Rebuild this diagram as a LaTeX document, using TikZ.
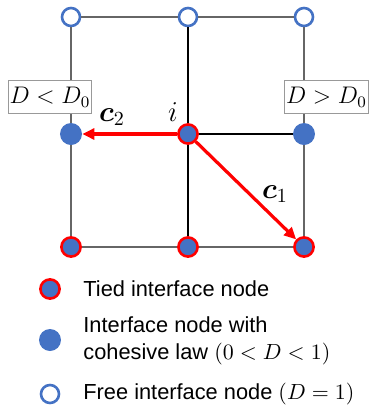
\documentclass[tikz,border=0pt]{standalone}
\usepackage[no-math]{fontspec}
\usepackage{amsmath}
\usepackage{bm}
\usetikzlibrary{arrows.meta, positioning}
\newfontfamily\legendfont{Liberation Sans}
\definecolor{nodeblue}{HTML}{4472C4}
\definecolor{tiedred}{HTML}{FF0000}

\begin{document}
\begin{tikzpicture}[
    x=0.5pt, y=-0.5pt,
    tied/.style={circle, fill=nodeblue, draw=tiedred, line width=1.3pt, minimum size=9.6pt, inner sep=0pt},
    cohesive/.style={circle, fill=nodeblue, minimum size=11pt, inner sep=0pt},
    free/.style={circle, fill=white, draw=nodeblue, line width=1.3pt, minimum size=9pt, inner sep=0pt},
    edge/.style={draw=black!60, line width=0.7pt},
    inner/.style={draw=black, line width=0.9pt},
    vec/.style={-{Triangle[length=6pt, width=5.5pt]}, draw=tiedred, line width=1.6pt},
    tag/.style={rectangle, draw=black!40, fill=white, line width=0.5pt, inner xsep=0.8pt, minimum height=15pt, font=\fontsize{12}{14}\selectfont},
    legend/.style={anchor=west, inner sep=0pt, align=left, font=\legendfont\fontsize{10.9}{13.5}\selectfont}
]
\useasboundingbox (0,0) rectangle (370,409);

% Grid nodes
\node[free] (tl) at (71,17) {};
\node[free] (tm) at (188,17) {};
\node[free] (tr) at (304,17) {};
\node[cohesive] (ml) at (71,134) {};
\node[tied] (ctr) at (188,134) {};
\node[cohesive] (mr) at (304,134) {};
\node[tied] (bl) at (71,247) {};
\node[tied] (bm) at (188,247) {};
\node[tied] (br) at (304,247) {};

% Grid lines
\draw[edge] (tl) -- (tm) -- (tr);
\draw[edge] (tl) -- (ml) -- (bl);
\draw[edge] (tr) -- (mr) -- (br);
\draw[edge] (bl) -- (bm) -- (br);
\draw[inner] (tm) -- (ctr) -- (bm);
\draw[inner] (ctr) -- (mr);

% Damage tags
\node[tag] (lowtag) at (50,97) {$D < D_0$};
\node[tag, anchor=east] (hightag) at (369,97) {$D > D_0$};

% Vectors
\draw[vec] (ctr) -- (ml);
\draw[vec] (ctr) -- (br);
\node[font=\Large] (clabel2) at (112,117) {$\bm{c}_2$};
\node[font=\Large] (ilabel) at (173,112) {$i$};
\node[font=\Large] (clabel1) at (275,194) {$\bm{c}_1$};

% Legend
\node[tied] (keytied) at (50,289) {};
\node[cohesive] (keycoh) at (50,340) {};
\node[free] (keyfree) at (50,394) {};
\node[legend] (texttied) at (83,289) {Tied interface node};
\node[legend] (textcoh) at (83,341) {Interface node with\\cohesive law $(0 < D < 1)$};
\node[legend] (textfree) at (83,394) {Free interface node $(D = 1)$};

\end{tikzpicture}
\end{document}
